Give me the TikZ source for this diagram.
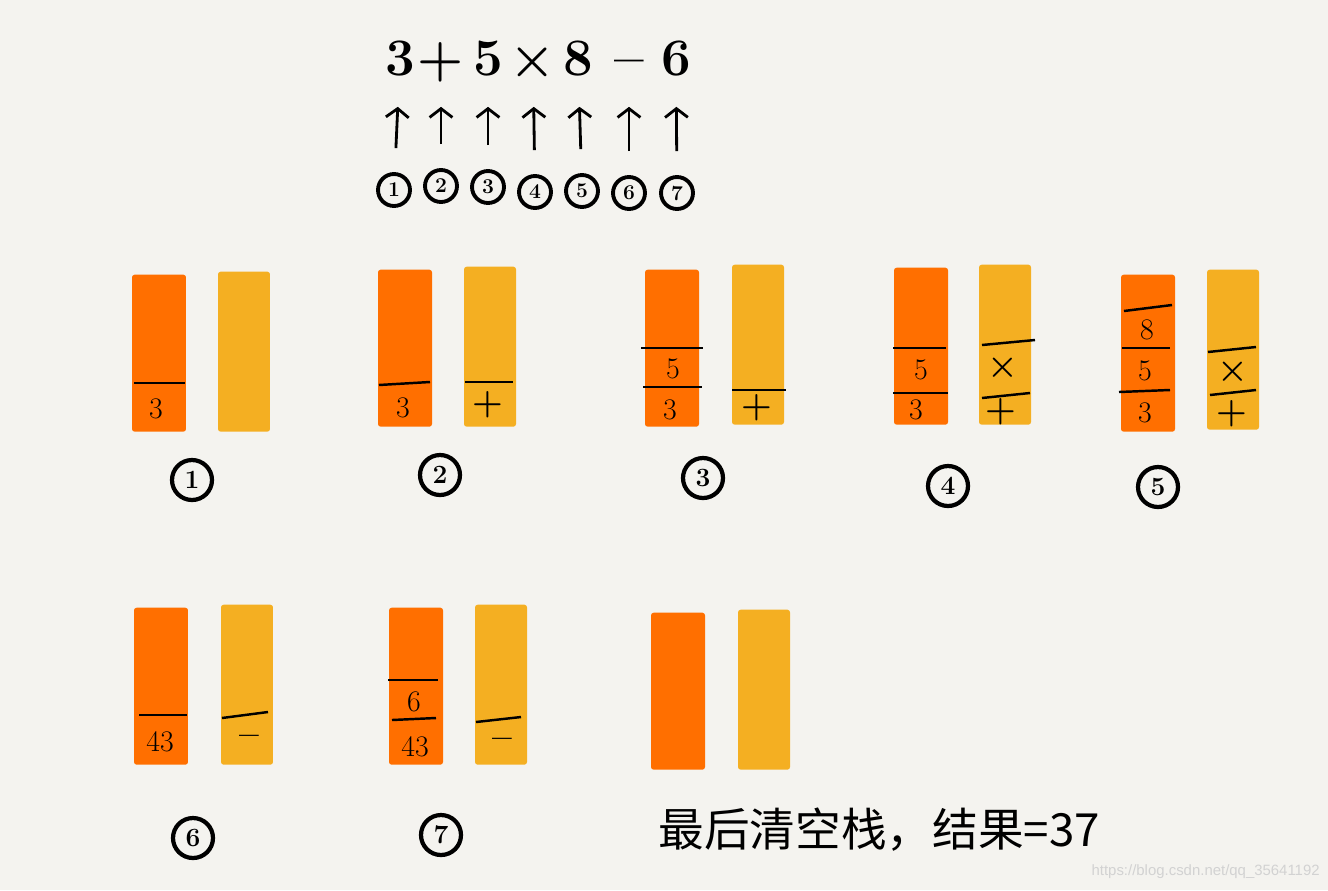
\documentclass[tikz,border=0pt]{standalone}
\usepackage{fontspec}
\newfontfamily\cjk{Noto Sans CJK SC}
\newfontfamily\wmfont{Liberation Sans}
\usetikzlibrary{arrows.meta}
\definecolor{bg}{HTML}{F4F3EF}
\definecolor{stackorange}{HTML}{FF6F00}
\definecolor{stackyellow}{HTML}{F4AF22}
\definecolor{wmgray}{HTML}{D2D2D2}
\begin{document}
\begin{tikzpicture}[x=0.02cm,y=-0.02cm,
  ostack/.style={fill=stackorange, minimum width=1.08cm, minimum height=3.14cm, inner sep=0, anchor=south, rounded corners=1.5pt},
  ystack/.style={ostack, fill=stackyellow, minimum width=1.04cm, minimum height=3.2cm},
  sepline/.style={line width=1.4pt},
  stxt/.style={font=\fontsize{17}{17}\selectfont, inner sep=0},
  sop/.style={stxt, font=\bfseries\fontsize{20}{20}\selectfont},
  tok/.style={font=\bfseries\fontsize{30}{30}\selectfont, inner sep=0, text height=0.7cm, text depth=0cm},
  clabel/.style={circle, draw, line width=2.4pt, minimum size=0.8cm, inner sep=0, font=\bfseries\fontsize{15}{15}\selectfont},
  ctop/.style={clabel, line width=2.2pt, minimum size=0.64cm, font=\bfseries\fontsize{12}{12}\selectfont},
  uparrow/.style={-{Straight Barb[length=5pt,width=13pt]}, line width=1.6pt, shorten <=0.48cm, shorten >=0.62cm}]
\fill[bg] (0,0) rectangle (1328,890);
\useasboundingbox (0,0) rectangle (1328,890);
% expression
\node[tok] (t1) at (400,58) {3};
\node[tok] (t2) at (441,58) {+};
\node[tok] (t3) at (488,58) {5};
\node[tok] (t4) at (533,58) {×};
\node[tok] (t5) at (578,58) {8};
\node[tok] (t6) at (629,58) {–};
\node[tok] (t7) at (676,58) {6};
\node[ctop] (c1) at (394,190) {1};
\node[ctop] (c2) at (441,186) {2};
\node[ctop] (c3) at (488,187) {3};
\node[ctop] (c4) at (535,192) {4};
\node[ctop] (c5) at (582,191) {5};
\node[ctop] (c6) at (629,193) {6};
\node[ctop] (c7) at (677,193) {7};
\draw[uparrow] (c1) -- (t1);
\draw[uparrow] (c2) -- (t2);
\draw[uparrow] (c3) -- (t3);
\draw[uparrow] (c4) -- (t4);
\draw[uparrow] (c5) -- (t5);
\draw[uparrow] (c6) -- (t6);
\draw[uparrow] (c7) -- (t7);
% step 1
\node[ostack] (o1) at (159,432) {};
\node[ystack] (y1) at (244,432) {};
\draw[sepline] (134,383) -- (185,383);
\node[stxt] (n1a) at (156,409) {3};
\node[clabel] (l1) at (192,480) {1};
% step 2
\node[ostack] (o2) at (405,427) {};
\node[ystack] (y2) at (490,427) {};
\draw[sepline] (379,385) -- (430,382);
\draw[sepline] (465,382) -- (513,382);
\node[stxt] (n2a) at (403,408) {3};
\node[sop] (n2b) at (488,405) {+};
\node[clabel] (l2) at (440,475) {2};
% step 3
\node[ostack] (o3) at (672,427) {};
\node[ystack] (y3) at (758,425) {};
\draw[sepline] (641,348) -- (703,348);
\draw[sepline] (643,387) -- (702,387);
\draw[sepline] (732,390) -- (786,390);
\node[stxt] (n3a) at (673,369) {5};
\node[stxt] (n3b) at (670,410) {3};
\node[sop] (n3c) at (757,408) {+};
\node[clabel] (l3) at (703,478) {3};
% step 4
\node[ostack] (o4) at (921,425) {};
\node[ystack] (y4) at (1005,425) {};
\draw[sepline] (893,348) -- (946,348);
\draw[sepline] (893,393) -- (948,393);
\draw[sepline] (982,345) -- (1035,340);
\draw[sepline] (982,398) -- (1030,393);
\node[stxt] (n4a) at (921,370) {5};
\node[stxt] (n4b) at (916,410) {3};
\node[sop] (n4c) at (1003,368) {×};
\node[sop] (n4d) at (1001,412) {+};
\node[clabel] (l4) at (948,486) {4};
% step 5
\node[ostack] (o5) at (1148,432) {};
\node[ystack] (y5) at (1233,430) {};
\draw[sepline] (1124,311) -- (1172,305);
\draw[sepline] (1122,348) -- (1170,348);
\draw[sepline] (1119,392) -- (1170,390);
\draw[sepline] (1208,352) -- (1256,347);
\draw[sepline] (1210,395) -- (1256,390);
\node[stxt] (n5a) at (1147,330) {8};
\node[stxt] (n5b) at (1145,371) {5};
\node[stxt] (n5c) at (1145,413) {3};
\node[sop] (n5d) at (1233,372) {×};
\node[sop] (n5e) at (1232,414) {+};
\node[clabel] (l5) at (1158,487) {5};
% step 6
\node[ostack] (o6) at (161,765) {};
\node[ystack] (y6) at (247,765) {};
\draw[sepline] (139,715) -- (187,715);
\draw[sepline] (222,718) -- (268,712);
\node[stxt] (n6a) at (160,742) {43};
\node[sop] (n6b) at (249,740) {–};
\node[clabel] (l6) at (193,838) {6};
% step 7
\node[ostack] (o7) at (416,765) {};
\node[ystack] (y7) at (501,765) {};
\draw[sepline] (388,680) -- (438,680);
\draw[sepline] (392,720) -- (436,718);
\draw[sepline] (476,722) -- (521,717);
\node[stxt] (n7a) at (414,702) {6};
\node[stxt] (n7b) at (415,747) {43};
\node[sop] (n7c) at (502,743) {–};
\node[clabel] (l7) at (441,835) {7};
% empty stacks
\node[ostack] (o8) at (678,770) {};
\node[ystack] (y8) at (764,770) {};
\node[font=\cjk\fontsize{26}{26}\selectfont, anchor=west, inner sep=0] (res) at (658,830) {最后清空栈，结果=37};
\node[font=\wmfont\fontsize{8.5}{8.5}\selectfont, text=wmgray, anchor=east, inner sep=0] (wm) at (1320,872) {https://blog.csdn.net/qq\_35641192};
\end{tikzpicture}
\end{document}
